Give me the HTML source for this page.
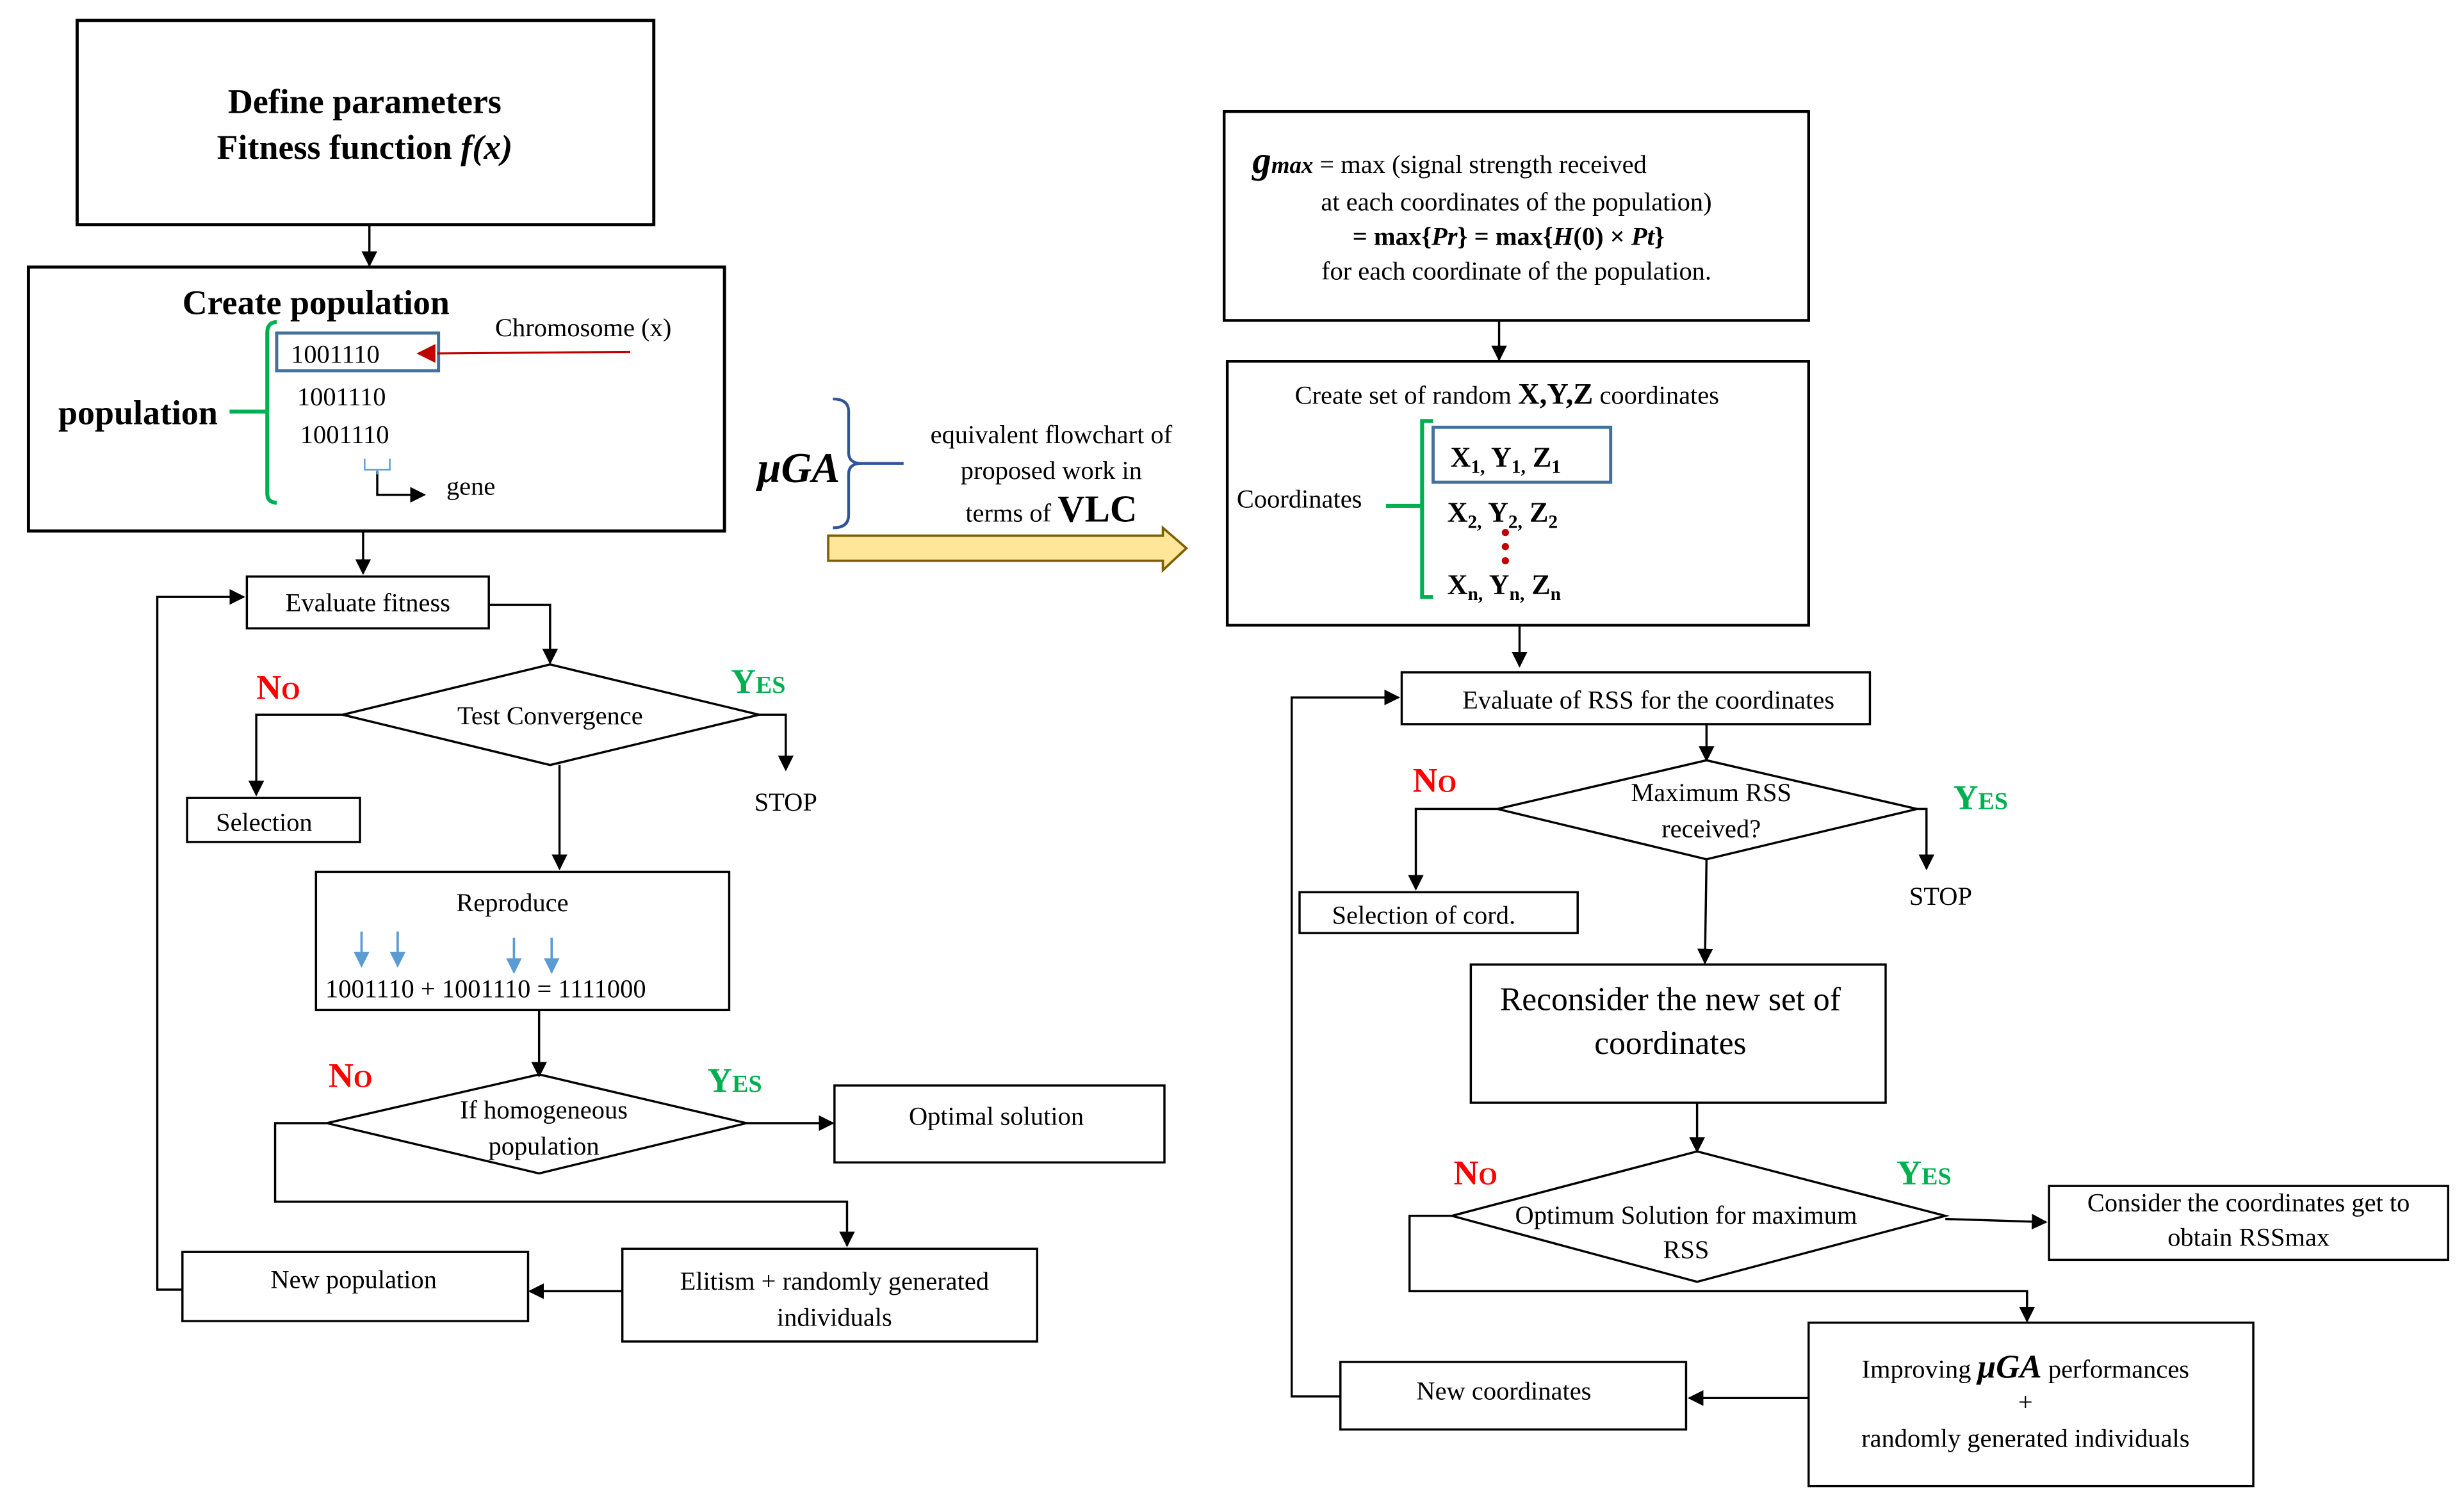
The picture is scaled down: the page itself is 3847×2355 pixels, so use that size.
<!DOCTYPE html>
<html><head><meta charset="utf-8"><style>
html,body{margin:0;padding:0;background:#fff;}
svg{display:block;}
svg text{font-family:"Liberation Serif","Times New Roman",serif;fill:#000;}
.t{font-size:16.5px;}
.c{text-anchor:middle;}
.b{font-weight:bold;}
.no{font-size:22px;font-weight:bold;fill:#ff0000;font-variant:small-caps;}
.yes{font-size:22px;font-weight:bold;fill:#00b050;font-variant:small-caps;}
</style></head><body>
<svg width="3847" height="2355" viewBox="0 0 1568 960" xmlns="http://www.w3.org/2000/svg" font-family="Liberation Serif, serif">
<defs>
<marker id="a" markerWidth="10" markerHeight="10" refX="9" refY="5" orient="auto" markerUnits="userSpaceOnUse"><path d="M0,0 L10,5 L0,10 z" fill="#000"/></marker>
<marker id="ab" markerWidth="10" markerHeight="10" refX="9" refY="5" orient="auto" markerUnits="userSpaceOnUse"><path d="M0,0 L10,5 L0,10 z" fill="#5b9bd5"/></marker>
</defs>
<rect width="1568" height="960" fill="#fff"/>
<g fill="none" stroke="#000" stroke-width="1.4">
<rect x="49" y="13" width="367" height="130" stroke-width="2"/>
<line x1="235" y1="143" x2="235" y2="169" marker-end="url(#a)"/>
<rect x="18" y="170" width="443" height="168" stroke-width="2"/>
<line x1="231" y1="338" x2="231" y2="365" marker-end="url(#a)"/>
<rect x="157" y="367" width="154" height="33"/>
<polyline points="311,385 350,385 350,422" marker-end="url(#a)"/>
<polygon points="218,455 350,423 483,455 350,487"/>
<polyline points="218,455 163,455 163,506" marker-end="url(#a)"/>
<rect x="119" y="508" width="110" height="28"/>
<polyline points="483,455 500,455 500,490" marker-end="url(#a)"/>
<line x1="356" y1="487" x2="356" y2="553" marker-end="url(#a)"/>
<rect x="201" y="555" width="263" height="88"/>
<line x1="343" y1="643" x2="343" y2="685" marker-end="url(#a)"/>
<polygon points="208,715 343,684 475,715 343,747"/>
<line x1="475" y1="715" x2="530" y2="715" marker-end="url(#a)"/>
<rect x="531" y="691" width="210" height="49"/>
<polyline points="208,715 175,715 175,765 539,765 539,793" marker-end="url(#a)"/>
<rect x="396" y="795" width="264" height="59"/>
<line x1="396" y1="822" x2="337" y2="822" marker-end="url(#a)"/>
<rect x="116" y="797" width="220" height="44"/>
<polyline points="116,821 100,821 100,380 155,380" marker-end="url(#a)"/>
<polyline points="240,300 240,315 270,315" marker-end="url(#a)"/>
<rect x="779" y="71" width="372" height="133" stroke-width="1.8"/>
<line x1="954" y1="204" x2="954" y2="229" marker-end="url(#a)"/>
<rect x="781" y="230" width="370" height="168" stroke-width="1.8"/>
<line x1="967" y1="398" x2="967" y2="424" marker-end="url(#a)"/>
<rect x="892" y="428" width="298" height="33"/>
<line x1="1086" y1="461" x2="1086" y2="484" marker-end="url(#a)"/>
<polygon points="953,515 1086,484 1220,515 1086,547"/>
<polyline points="953,515 901,515 901,566" marker-end="url(#a)"/>
<rect x="827" y="568" width="177" height="26"/>
<polyline points="1220,515 1226,515 1226,553" marker-end="url(#a)"/>
<line x1="1086" y1="547" x2="1085" y2="613" marker-end="url(#a)"/>
<rect x="936" y="614" width="264" height="88"/>
<line x1="1080" y1="702" x2="1080" y2="733" marker-end="url(#a)"/>
<polygon points="924,774 1080,733 1238,774 1080,816"/>
<line x1="1238" y1="776" x2="1302" y2="778" marker-end="url(#a)"/>
<rect x="1304" y="755" width="254" height="47"/>
<polyline points="924,774 897,774 897,822 1290,822 1290,841" marker-end="url(#a)"/>
<rect x="1151" y="842" width="283" height="104"/>
<line x1="1151" y1="890" x2="1075" y2="890" marker-end="url(#a)"/>
<rect x="853" y="867" width="220" height="43"/>
<polyline points="853,889 822,889 822,444 890,444" marker-end="url(#a)"/>
</g>
<rect x="176" y="212" width="103" height="24" fill="none" stroke="#41719c" stroke-width="2"/>
<line x1="401" y1="224" x2="278" y2="225" stroke="#c00000" stroke-width="1.3"/>
<path d="M265,225 L277,219 L277,231 z" fill="#c00000"/>
<path d="M176,205 Q170,205 170,212 L170,314 Q170,320 176,320 M170,262 L146,262" fill="none" stroke="#00b050" stroke-width="2.5"/>
<path d="M232,292 L232,299 L248,299 L248,292 M240,299 L240,302" fill="none" stroke="#5b9bd5" stroke-width="1"/>
<g stroke="#5b9bd5" stroke-width="1.5">
<line x1="230" y1="593" x2="230" y2="615" marker-end="url(#ab)"/>
<line x1="253" y1="593" x2="253" y2="615" marker-end="url(#ab)"/>
<line x1="327" y1="597" x2="327" y2="619" marker-end="url(#ab)"/>
<line x1="351" y1="597" x2="351" y2="619" marker-end="url(#ab)"/>
</g>
<path d="M530,254 Q540,254 540,262 L540,288 Q540,295 548,295 L575,295 M548,295 Q540,295 540,302 L540,328 Q540,336 530,336" fill="none" stroke="#2f5597" stroke-width="1.8"/>
<path d="M527,341 L740,341 L740,336 L755,349 L740,363 L740,357 L527,357 z" fill="#ffe699" stroke="#7f6000" stroke-width="1.5"/>
<rect x="912" y="272" width="113" height="35" fill="none" stroke="#41719c" stroke-width="2"/>
<path d="M912,268 L905,268 L905,380 L912,380 M905,322 L882,322" fill="none" stroke="#00b050" stroke-width="2.5"/>
<g fill="#c00000"><circle cx="958" cy="339" r="2.3"/><circle cx="958" cy="348" r="2.3"/><circle cx="958" cy="357" r="2.3"/></g>
<text x="232" y="72" class="c b" font-size="22">Define parameters</text>
<text x="232" y="101" class="c b" font-size="22">Fitness function <tspan font-style="italic">f(x)</tspan></text>
<text x="201" y="200" class="c b" font-size="22">Create population</text>
<text x="315" y="214" class="t">Chromosome (x)</text>
<text x="185" y="231" class="t">1001110</text>
<text x="189" y="258" class="t">1001110</text>
<text x="191" y="282" class="t">1001110</text>
<text x="37" y="270" class="b" font-size="22">population</text>
<text x="284" y="315" class="t">gene</text>
<text x="234" y="389" class="t c">Evaluate fitness</text>
<text x="163" y="445" class="no">No</text>
<text x="465" y="441" class="yes">Yes</text>
<text x="350" y="461" class="t c">Test Convergence</text>
<text x="168" y="529" class="t c">Selection</text>
<text x="500" y="516" class="t c">STOP</text>
<text x="326" y="580" class="t c">Reproduce</text>
<text x="207" y="635" class="t">1001110  + 1001110 = 1111000</text>
<text x="209" y="692" class="no">No</text>
<text x="450" y="695" class="yes">Yes</text>
<text x="346" y="712" class="t c">If homogeneous</text>
<text x="346" y="735" class="t c">population</text>
<text x="634" y="716" class="t c">Optimal solution</text>
<text x="531" y="821" class="t c">Elitism + randomly generated</text>
<text x="531" y="844" class="t c">individuals</text>
<text x="225" y="820" class="t c">New population</text>
<text x="482" y="307" font-size="27" font-style="italic" font-weight="bold">μGA</text>
<text x="669" y="282" class="t c">equivalent flowchart of</text>
<text x="669" y="305" class="t c">proposed work in</text>
<text x="669" y="332" class="t c">terms of <tspan class="b" font-size="24">VLC</tspan></text>
<text x="797" y="110" class="t"><tspan font-size="24" font-weight="bold" font-style="italic">g</tspan><tspan font-size="15" font-weight="bold" font-style="italic">max</tspan> = max (signal strength received</text>
<text x="965" y="134" class="t c">at each coordinates of the population)</text>
<text x="960" y="156" class="t c b">= max{<tspan font-style="italic">Pr</tspan>} = max{<tspan font-style="italic">H</tspan>(0) × <tspan font-style="italic">Pt</tspan>}</text>
<text x="965" y="178" class="t c">for each coordinate of  the population.</text>
<text x="959" y="257" class="t c">Create set of random <tspan class="b" font-size="19">X,Y,Z</tspan> coordinates</text>
<text x="787" y="323" class="t">Coordinates</text>
<text x="923" y="297" class="b" font-size="18">X<tspan font-size="12" dy="4">1,</tspan><tspan dy="-4"> Y</tspan><tspan font-size="12" dy="4">1,</tspan><tspan dy="-4"> Z</tspan><tspan font-size="12" dy="4">1</tspan></text>
<text x="921" y="332" class="b" font-size="18">X<tspan font-size="12" dy="4">2,</tspan><tspan dy="-4"> Y</tspan><tspan font-size="12" dy="4">2,</tspan><tspan dy="-4"> Z</tspan><tspan font-size="12" dy="4">2</tspan></text>
<text x="921" y="378" class="b" font-size="18">X<tspan font-size="12" dy="4">n,</tspan><tspan dy="-4"> Y</tspan><tspan font-size="12" dy="4">n,</tspan><tspan dy="-4"> Z</tspan><tspan font-size="12" dy="4">n</tspan></text>
<text x="1049" y="451" class="t c">Evaluate of RSS for the coordinates</text>
<text x="899" y="504" class="no">No</text>
<text x="1243" y="515" class="yes">Yes</text>
<text x="1089" y="510" class="t c">Maximum RSS</text>
<text x="1089" y="533" class="t c">received?</text>
<text x="906" y="588" class="t c">Selection of cord.</text>
<text x="1235" y="576" class="t c">STOP</text>
<text x="1063" y="643" class="c" font-size="21">Reconsider the new set of</text>
<text x="1063" y="671" class="c" font-size="21">coordinates</text>
<text x="925" y="754" class="no">No</text>
<text x="1207" y="754" class="yes">Yes</text>
<text x="1073" y="779" class="t c">Optimum Solution for maximum</text>
<text x="1073" y="801" class="t c">RSS</text>
<text x="1431" y="771" class="t c">Consider the coordinates get to</text>
<text x="1431" y="793" class="t c">obtain  RSSmax</text>
<text x="1289" y="877" class="t c">Improving <tspan font-size="21" font-style="italic" font-weight="bold">μGA</tspan> performances</text>
<text x="1289" y="898" class="t c">+</text>
<text x="1289" y="921" class="t c">randomly generated individuals</text>
<text x="957" y="891" class="t c">New coordinates</text>
</svg>
</body></html>
